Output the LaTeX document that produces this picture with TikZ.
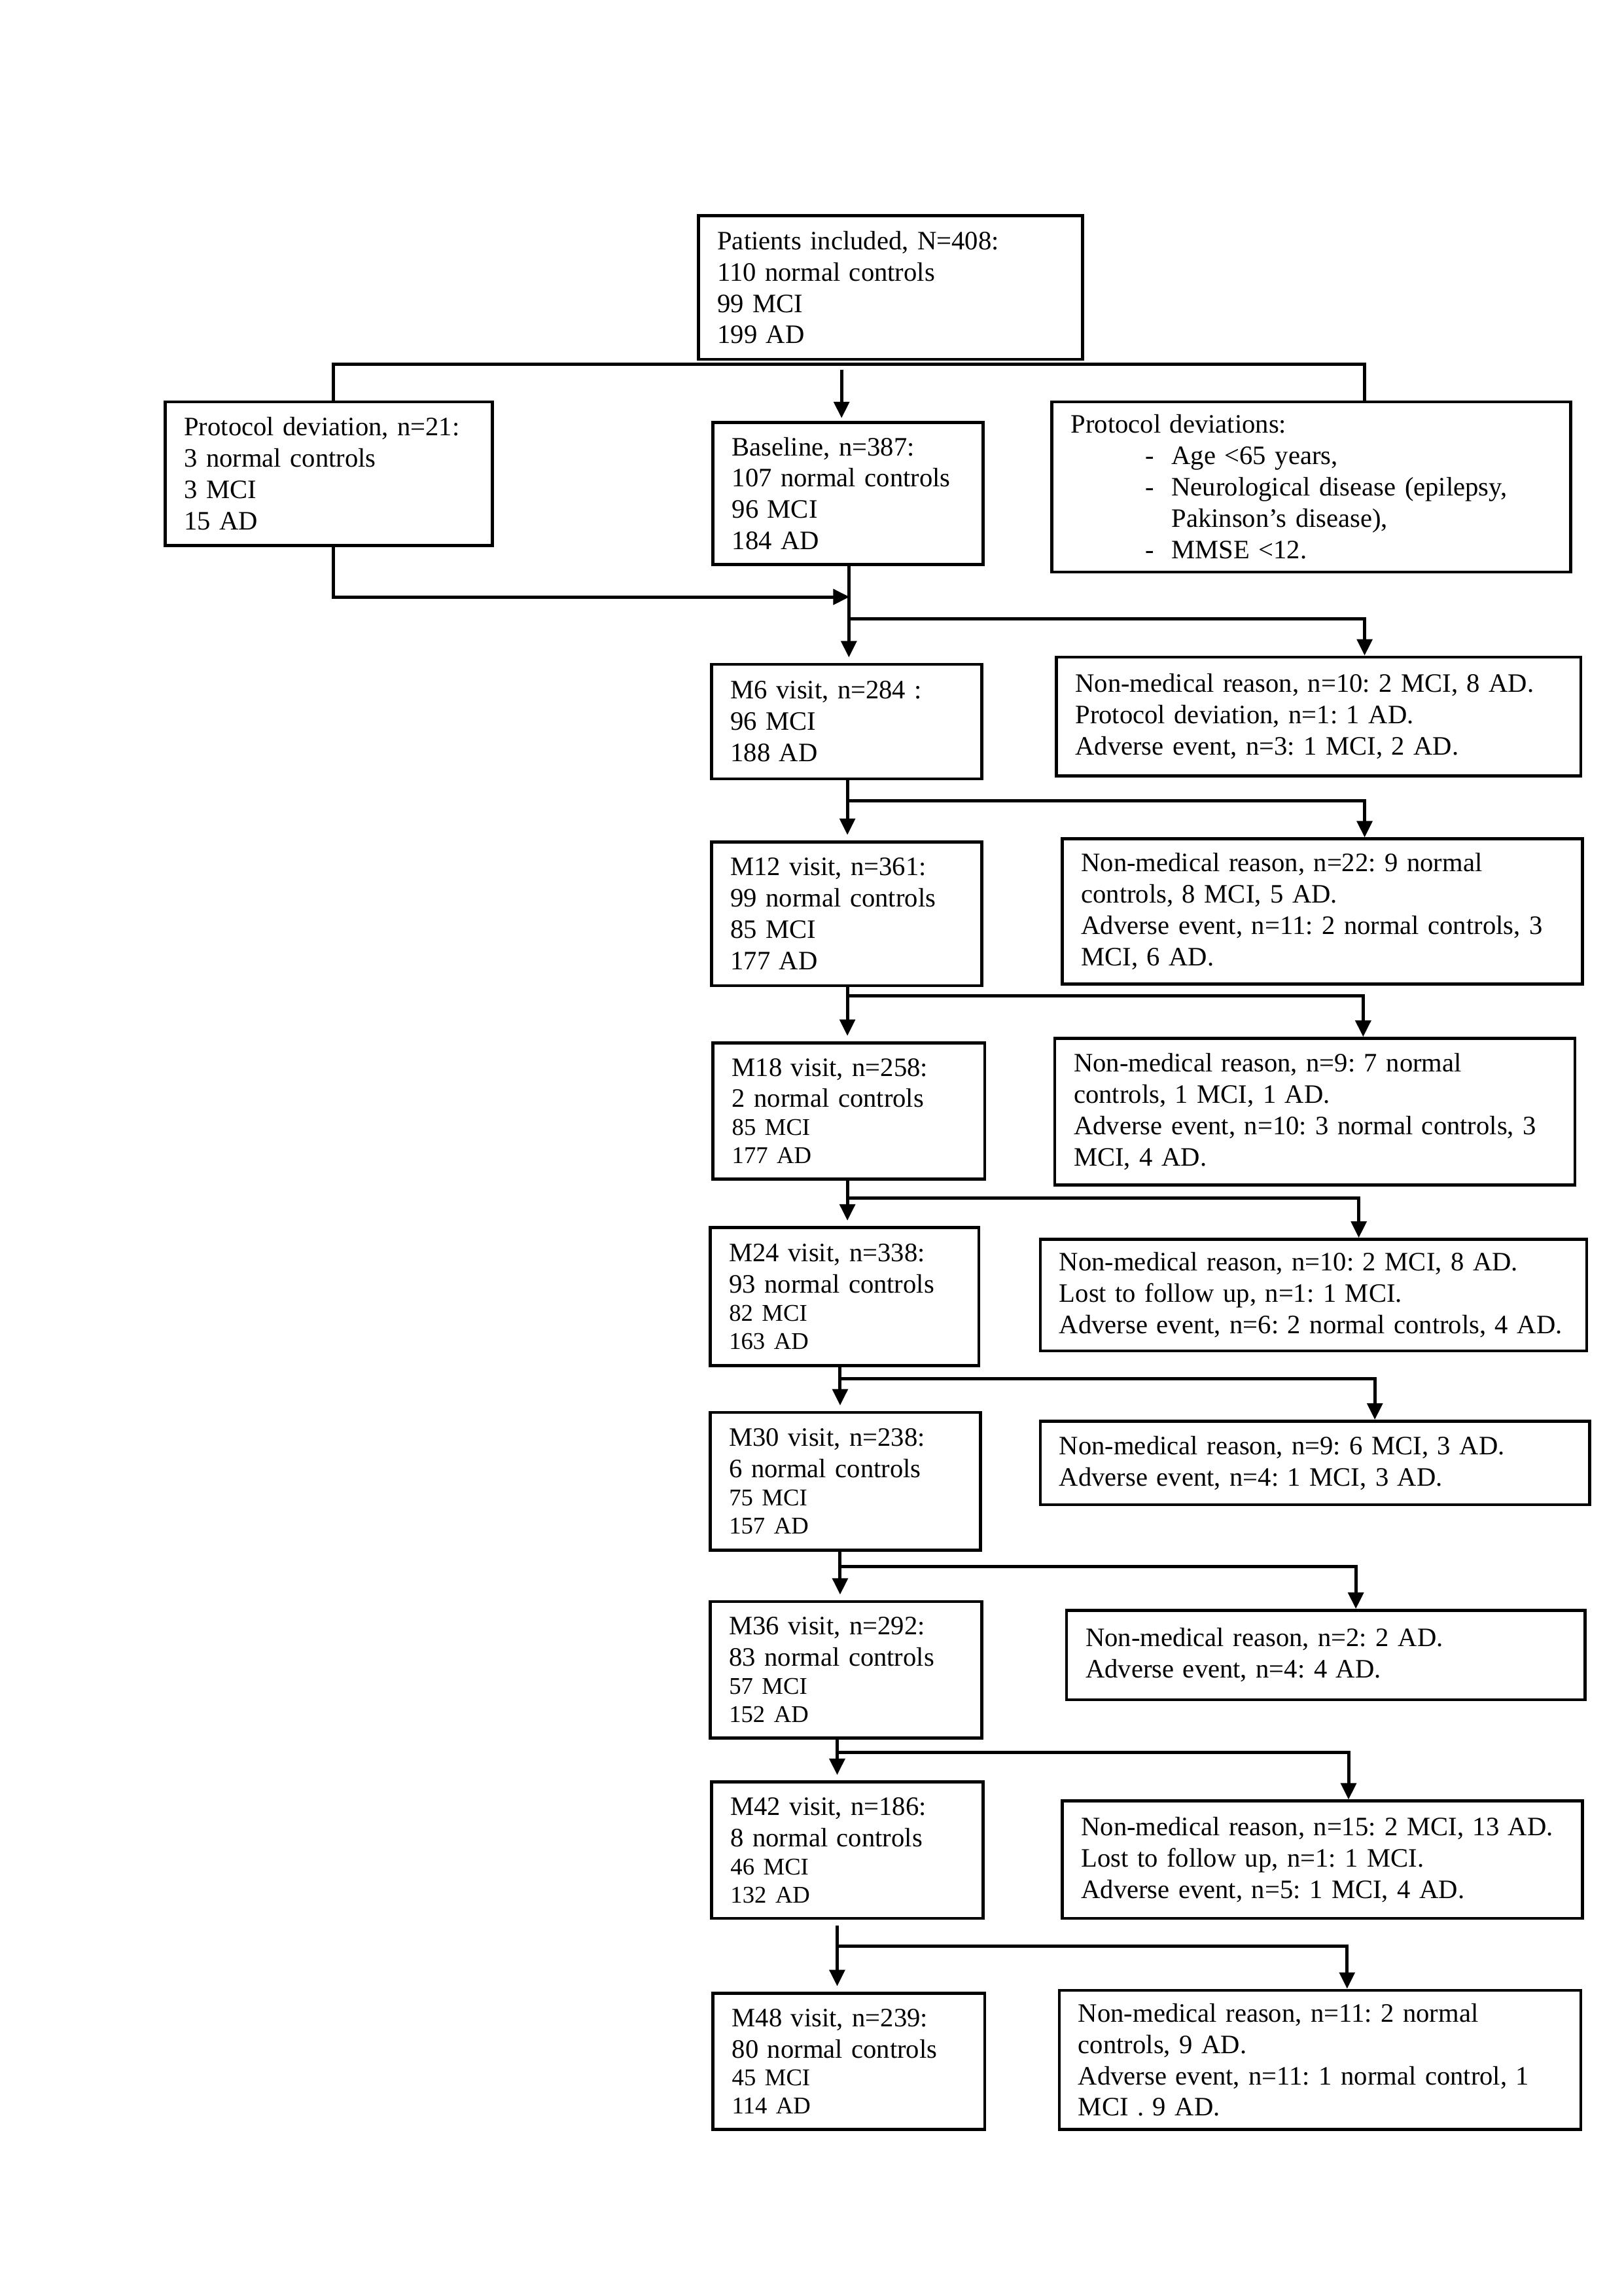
\documentclass[tikz,border=0pt]{standalone}
\usepackage{fontspec}
\setmainfont{Liberation Serif}
\usetikzlibrary{arrows.meta}
\newdimen\uux
\newdimen\uuy
\uux=0.5359pt
\uuy=0.5378pt
\newcommand\bnode[6]{%
  \pgfmathsetmacro\myBW{#4-#2}\pgfmathsetmacro\myBH{#5-#3}%
  \pgfmathsetmacro\myCX{(#2+#4)/2}\pgfmathsetmacro\myCY{(#3+#5)/2}%
  \pgfmathsetmacro\myTW{#4-#2-26}%
  \node[box,minimum width=\myBW\uux,minimum height=\myBH\uuy,text width=\myTW\uux] (#1) at (\myCX,\myCY) {#6};}
\newcommand\smallpart[1]{\par{\fontsize{8.8}{10.3}\selectfont #1\par}}
\newcommand\dashitem[1]{\hspace*{27.2pt}\makebox[9.7pt][l]{-}#1}
\frenchspacing
\begin{document}
\begin{tikzpicture}[x=0.5359pt,y=-0.5378pt,
  box/.style={draw,line width=1.1pt,inner xsep=13\uux,inner ysep=0pt,align=left,
    font=\frenchspacing\fontsize{9.75}{11.5}\selectfont},
  ln/.style={line width=1.2pt,line join=miter},
  arr/.style={ln,-{Triangle[length=6pt,width=5.6pt]}}]
\useasboundingbox[fill=white] (0,0) rectangle (1111.1,1565.5);
\bnode{p}{478}{147}{741}{245}{Patients included, N=408:\\110 normal controls\\99 MCI\\199 AD}
\bnode{l}{113}{274}{337}{372}{Protocol deviation, n=21:\\3 normal controls\\3 MCI\\15 AD}
\bnode{b}{488}{288}{673}{385}{Baseline, n=387:\\107 normal controls\\96 MCI\\184 AD}
\bnode{r}{720}{274}{1075}{390}{Protocol deviations:\\\dashitem{Age <65 years,}\\\dashitem{Neurological disease (epilepsy,}\\\hspace*{36.9pt}Pakinson’s disease),\\\dashitem{MMSE <12.}}
\bnode{m6}{487}{453}{672}{531}{M6 visit, n=284 :\\96 MCI\\188 AD}
\bnode{r6}{723}{448}{1082}{529}{Non-medical reason, n=10: 2 MCI, 8 AD.\\Protocol deviation, n=1: 1 AD.\\Adverse event, n=3: 1 MCI, 2 AD.}
\bnode{m12}{487}{574}{672}{672}{M12 visit, n=361:\\99 normal controls\\85 MCI\\177 AD}
\bnode{r12}{727}{572}{1083}{671}{Non-medical reason, n=22: 9 normal\\controls, 8 MCI, 5 AD.\\Adverse event, n=11: 2 normal controls, 3\\MCI, 6 AD.}
\bnode{m18}{488}{711}{674}{804}{M18 visit, n=258:\\2 normal controls\smallpart{85 MCI\\177 AD}}
\bnode{r18}{722}{708}{1078}{808}{Non-medical reason, n=9: 7 normal\\controls, 1 MCI, 1 AD.\\Adverse event, n=10: 3 normal controls, 3\\MCI, 4 AD.}
\bnode{m24}{486}{837}{670}{931}{M24 visit, n=338:\\93 normal controls\smallpart{82 MCI\\163 AD}}
\bnode{r24}{712}{845}{1086}{921}{Non-medical reason, n=10: 2 MCI, 8 AD.\\Lost to follow up, n=1: 1 MCI.\\Adverse event, n=6: 2 normal controls, 4 AD.}
\bnode{m30}{486}{963}{671}{1057}{M30 visit, n=238:\\6 normal controls\smallpart{75 MCI\\157 AD}}
\bnode{r30}{712}{969}{1088}{1026}{Non-medical reason, n=9: 6 MCI, 3 AD.\\Adverse event, n=4: 1 MCI, 3 AD.}
\bnode{m36}{486}{1092}{672}{1185}{M36 visit, n=292:\\83 normal controls\smallpart{57 MCI\\152 AD}}
\bnode{r36}{730}{1098}{1085}{1159}{Non-medical reason, n=2: 2 AD.\\Adverse event, n=4: 4 AD.}
\bnode{m42}{487}{1215}{673}{1308}{M42 visit, n=186:\\8 normal controls\smallpart{46 MCI\\132 AD}}
\bnode{r42}{727}{1228}{1083}{1308}{Non-medical reason, n=15: 2 MCI, 13 AD.\\Lost to follow up, n=1: 1 MCI.\\Adverse event, n=5: 1 MCI, 4 AD.}
\bnode{m48}{488}{1359}{674}{1452}{M48 visit, n=239:\\80 normal controls\smallpart{45 MCI\\114 AD}}
\bnode{r48}{725}{1357}{1082}{1452}{Non-medical reason, n=11: 2 normal\\controls, 9 AD.\\Adverse event, n=11: 1 normal control, 1\\MCI . 9 AD.}
% top connectors
\coordinate (tl) at (228,248.5);
\coordinate (tr) at (934,248.5);
\coordinate (tc) at (576,252);
\draw[ln] (l.north -| tl) -- (tl) -- (tr) -- (r.north -| tr);
\draw[arr,shorten >=1pt] (tc) -- (b.north -| tc);
\coordinate (lr) at (228,407);
\coordinate (lrend) at (581.5,407);
\draw[arr] (l.south -| lr) -- (lr) -- (lrend);
% chain
\foreach \ua/\ub/\uc/\ux/\uy/\ur/\us in {b/m6/r6/581/422/934/386,
  m6/m12/r12/580/546/934/531, m12/m18/r18/580/679/933/673,
  m18/m24/r24/580/817/930/805, m24/m30/r30/575/940/941/932,
  m30/m36/r36/575/1068/928/1058, m36/m42/r42/573/1195/923/1186,
  m42/m48/r48/573/1327/922/1313}{
  \coordinate (j) at (\ux,\uy);
  \coordinate (s) at (\ux,\us);
  \coordinate (k) at (\ur,\uy);
  \draw[arr,shorten >=2pt] (s) -- (\ub.north -| j);
  \draw[arr] (j) -- (k) -- (\uc.north -| k);
}
\end{tikzpicture}
\end{document}
